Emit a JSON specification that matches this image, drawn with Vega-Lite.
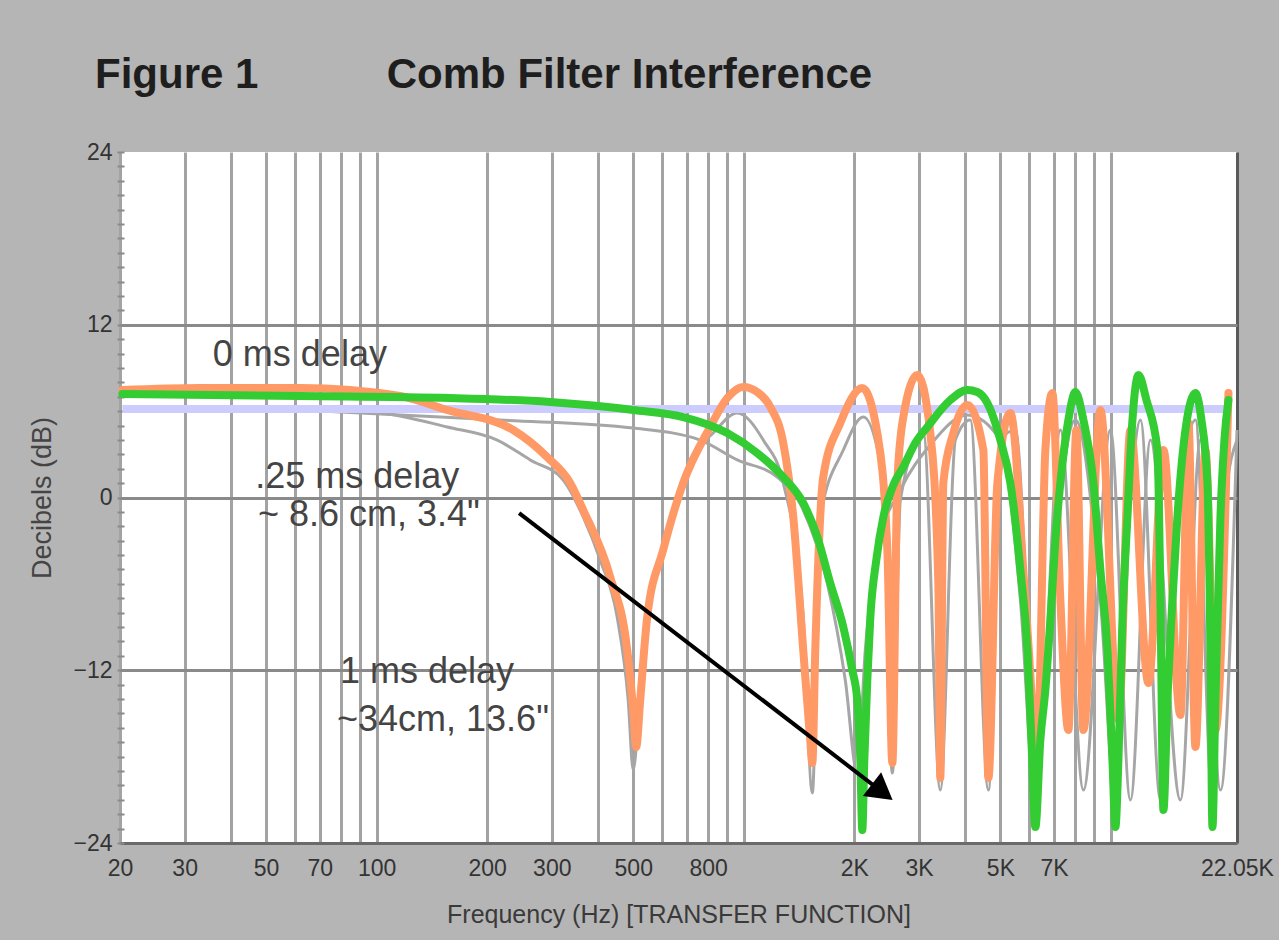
{
  "$schema": "https://vega.github.io/schema/vega-lite/v6.json",
  "width": 1117,
  "height": 691,
  "autosize": {"type": "none"},
  "padding": {"left": 120, "top": 152, "right": 42, "bottom": 97},
  "background": "#b5b5b5",
  "title": {
    "text": "Figure 1\u00a0\u00a0\u00a0\u00a0\u00a0\u00a0\u00a0\u00a0\u00a0\u00a0\u00a0Comb Filter Interference",
    "anchor": "start", "frame": "group", "dx": -25, "offset": 11, "baseline": "alphabetic",
    "font": "Liberation Sans", "fontSize": 42, "fontWeight": "bold", "color": "#1e1e1e"
  },
  "config": {"view": {"fill": "white", "stroke": null}},
  "datasets": {
    "curves": [
      {"s": "gray1", "f": 61.9, "db": 6.15}, {"s": "gray1", "f": 102.2, "db": 5.87}, {"s": "gray1", "f": 155.6, "db": 4.90},
      {"s": "gray1", "f": 213, "db": 3.99}, {"s": "gray1", "f": 262, "db": 2.61}, {"s": "gray1", "f": 322.2, "db": 1.22},
      {"s": "gray1", "f": 365.3, "db": -1.35}, {"s": "gray1", "f": 406.4, "db": -4.34}, {"s": "gray1", "f": 452, "db": -8.30},
      {"s": "gray1", "f": 484.4, "db": -14.07}, {"s": "gray1", "f": 499.9, "db": -18.93}, {"s": "gray1", "f": 522.3, "db": -13.37},
      {"s": "gray1", "f": 556.1, "db": -7.12}, {"s": "gray1", "f": 618.7, "db": -2.74}, {"s": "gray1", "f": 714.7, "db": 2.61},
      {"s": "gray1", "f": 825.6, "db": 4.48}, {"s": "gray1", "f": 960, "db": 5.87}, {"s": "gray1", "f": 1130, "db": 3.99},
      {"s": "gray1", "f": 1281, "db": 1.01}, {"s": "gray1", "f": 1452, "db": -8.30}, {"s": "gray1", "f": 1537, "db": -20.53},
      {"s": "gray1", "f": 1616, "db": -1.35}, {"s": "gray1", "f": 1867, "db": 3.30}, {"s": "gray1", "f": 2116, "db": 5.59},
      {"s": "gray1", "f": 2400, "db": 1.01}, {"s": "gray1", "f": 2539, "db": -19.14}, {"s": "gray1", "f": 2670, "db": -0.17},
      {"s": "gray1", "f": 3084, "db": 4.48}, {"s": "gray1", "f": 3430, "db": -20.32}, {"s": "gray1", "f": 3769, "db": 3.99},
      {"s": "gray1", "f": 4141, "db": 5.38}, {"s": "gray1", "f": 4637, "db": -20.32}, {"s": "gray1", "f": 4998, "db": 3.99},
      {"s": "gray1", "f": 5492, "db": 4.69}, {"s": "gray1", "f": 6305, "db": -19.62}, {"s": "gray1", "f": 7283, "db": 4.69},
      {"s": "gray1", "f": 8416, "db": -20.32}, {"s": "gray1", "f": 9970, "db": 4.69}, {"s": "gray1", "f": 11302, "db": -21.01},
      {"s": "gray1", "f": 12813, "db": 3.99}, {"s": "gray1", "f": 15463, "db": -21.01}, {"s": "gray1", "f": 17532, "db": 3.99},
      {"s": "gray1", "f": 19875, "db": -20.32}, {"s": "gray1", "f": 22050, "db": 4.69},

      {"s": "gray2", "f": 61.9, "db": 6.08}, {"s": "gray2", "f": 217, "db": 5.38}, {"s": "gray2", "f": 499.9, "db": 4.83},
      {"s": "gray2", "f": 761, "db": 3.99}, {"s": "gray2", "f": 960, "db": 2.61}, {"s": "gray2", "f": 1234, "db": 1.42},
      {"s": "gray2", "f": 1452, "db": -0.87}, {"s": "gray2", "f": 1688, "db": -5.94}, {"s": "gray2", "f": 1890, "db": -12.68},
      {"s": "gray2", "f": 2038, "db": -19.14}, {"s": "gray2", "f": 2143, "db": -10.59}, {"s": "gray2", "f": 2355, "db": -2.95},
      {"s": "gray2", "f": 2670, "db": 0.52}, {"s": "gray2", "f": 3222, "db": 3.65}, {"s": "gray2", "f": 4064, "db": 5.73},
      {"s": "gray2", "f": 4998, "db": 3.99}, {"s": "gray2", "f": 5668, "db": -7.12}, {"s": "gray2", "f": 6227, "db": -21.01},
      {"s": "gray2", "f": 6840, "db": -7.12}, {"s": "gray2", "f": 8002, "db": 5.38}, {"s": "gray2", "f": 9362, "db": -7.12},
      {"s": "gray2", "f": 10286, "db": -21.01}, {"s": "gray2", "f": 11302, "db": -0.17}, {"s": "gray2", "f": 12034, "db": 5.38},
      {"s": "gray2", "f": 13642, "db": -21.01}, {"s": "gray2", "f": 15463, "db": -0.17}, {"s": "gray2", "f": 16990, "db": 5.38},
      {"s": "gray2", "f": 18902, "db": -21.01}, {"s": "gray2", "f": 20508, "db": -0.17}, {"s": "gray2", "f": 22050, "db": 3.99},

      {"s": "flat", "f": 20.3, "db": 6.15}, {"s": "flat", "f": 20898, "db": 6.15},

      {"s": "orange", "f": 20.3, "db": 7.47}, {"s": "orange", "f": 33.0, "db": 7.61}, {"s": "orange", "f": 61.9, "db": 7.61},
      {"s": "orange", "f": 115.9, "db": 7.05}, {"s": "orange", "f": 155.6, "db": 6.08}, {"s": "orange", "f": 235.5, "db": 4.69},
      {"s": "orange", "f": 291.4, "db": 2.81}, {"s": "orange", "f": 336.7, "db": 1.01}, {"s": "orange", "f": 365.3, "db": -0.87},
      {"s": "orange", "f": 432.7, "db": -5.52}, {"s": "orange", "f": 481.4, "db": -10.59}, {"s": "orange", "f": 499.9, "db": -14.76},
      {"s": "orange", "f": 509.4, "db": -17.33}, {"s": "orange", "f": 522.3, "db": -14.07}, {"s": "orange", "f": 545.8, "db": -8.30},
      {"s": "orange", "f": 603.2, "db": -3.65}, {"s": "orange", "f": 684, "db": 1.01}, {"s": "orange", "f": 810.2, "db": 4.90},
      {"s": "orange", "f": 901.6, "db": 6.91}, {"s": "orange", "f": 996.8, "db": 7.68}, {"s": "orange", "f": 1088, "db": 7.33},
      {"s": "orange", "f": 1181, "db": 6.29}, {"s": "orange", "f": 1281, "db": 3.79}, {"s": "orange", "f": 1364, "db": -1.35},
      {"s": "orange", "f": 1452, "db": -10.59}, {"s": "orange", "f": 1517, "db": -16.84}, {"s": "orange", "f": 1537, "db": -18.44},
      {"s": "orange", "f": 1566, "db": -10.59}, {"s": "orange", "f": 1646, "db": 1.42}, {"s": "orange", "f": 1832, "db": 5.18},
      {"s": "orange", "f": 2103, "db": 7.61}, {"s": "orange", "f": 2310, "db": 4.48}, {"s": "orange", "f": 2461, "db": -3.65},
      {"s": "orange", "f": 2539, "db": -18.44}, {"s": "orange", "f": 2619, "db": 1.01}, {"s": "orange", "f": 2720, "db": 5.59},
      {"s": "orange", "f": 2970, "db": 8.51}, {"s": "orange", "f": 3222, "db": 4.48}, {"s": "orange", "f": 3388, "db": -5.94},
      {"s": "orange", "f": 3430, "db": -19.48}, {"s": "orange", "f": 3496, "db": 1.01}, {"s": "orange", "f": 3722, "db": 4.48},
      {"s": "orange", "f": 4064, "db": 6.43}, {"s": "orange", "f": 4493, "db": 3.30}, {"s": "orange", "f": 4637, "db": -19.48},
      {"s": "orange", "f": 4907, "db": 1.01}, {"s": "orange", "f": 5322, "db": 5.87}, {"s": "orange", "f": 5849, "db": -7.12},
      {"s": "orange", "f": 6305, "db": -17.33}, {"s": "orange", "f": 6629, "db": 3.30}, {"s": "orange", "f": 6926, "db": 7.26},
      {"s": "orange", "f": 7283, "db": -7.12}, {"s": "orange", "f": 7657, "db": -16.15}, {"s": "orange", "f": 8053, "db": 4.69},
      {"s": "orange", "f": 8416, "db": -16.15}, {"s": "orange", "f": 9362, "db": 6.08}, {"s": "orange", "f": 10482, "db": -15.46},
      {"s": "orange", "f": 11302, "db": 4.69}, {"s": "orange", "f": 12651, "db": -12.89}, {"s": "orange", "f": 13901, "db": 3.30},
      {"s": "orange", "f": 15463, "db": -15.11}, {"s": "orange", "f": 16261, "db": 5.18}, {"s": "orange", "f": 16990, "db": -17.33},
      {"s": "orange", "f": 18090, "db": 3.30}, {"s": "orange", "f": 19260, "db": -16.15}, {"s": "orange", "f": 20898, "db": 7.26},

      {"s": "green", "f": 20.3, "db": 7.19}, {"s": "green", "f": 61.9, "db": 7.05}, {"s": "green", "f": 158.6, "db": 6.91},
      {"s": "green", "f": 297, "db": 6.63}, {"s": "green", "f": 499.9, "db": 6.08}, {"s": "green", "f": 684, "db": 5.59},
      {"s": "green", "f": 901.6, "db": 4.48}, {"s": "green", "f": 1088, "db": 3.09}, {"s": "green", "f": 1281, "db": 1.42},
      {"s": "green", "f": 1452, "db": -0.38}, {"s": "green", "f": 1586, "db": -2.74}, {"s": "green", "f": 1720, "db": -5.94},
      {"s": "green", "f": 1867, "db": -9.00}, {"s": "green", "f": 1975, "db": -11.98}, {"s": "green", "f": 2038, "db": -14.07},
      {"s": "green", "f": 2077, "db": -18.23}, {"s": "green", "f": 2103, "db": -23.10}, {"s": "green", "f": 2130, "db": -18.23},
      {"s": "green", "f": 2170, "db": -12.68}, {"s": "green", "f": 2212, "db": -8.30}, {"s": "green", "f": 2296, "db": -4.34},
      {"s": "green", "f": 2400, "db": -1.35}, {"s": "green", "f": 2555, "db": 0.87}, {"s": "green", "f": 2720, "db": 2.12},
      {"s": "green", "f": 2932, "db": 3.79}, {"s": "green", "f": 3163, "db": 4.90}, {"s": "green", "f": 3653, "db": 6.77},
      {"s": "green", "f": 4064, "db": 7.47}, {"s": "green", "f": 4327, "db": 7.33}, {"s": "green", "f": 4608, "db": 6.56},
      {"s": "green", "f": 4998, "db": 3.99}, {"s": "green", "f": 5322, "db": 1.01}, {"s": "green", "f": 5668, "db": -5.04},
      {"s": "green", "f": 5923, "db": -10.59}, {"s": "green", "f": 6073, "db": -16.84}, {"s": "green", "f": 6227, "db": -22.89},
      {"s": "green", "f": 6424, "db": -16.84}, {"s": "green", "f": 6629, "db": -13.37}, {"s": "green", "f": 6840, "db": -8.51},
      {"s": "green", "f": 7058, "db": -2.95}, {"s": "green", "f": 7283, "db": 1.01}, {"s": "green", "f": 7657, "db": 5.38},
      {"s": "green", "f": 8002, "db": 7.33}, {"s": "green", "f": 8416, "db": 5.38}, {"s": "green", "f": 8960, "db": 1.01},
      {"s": "green", "f": 9362, "db": -5.04}, {"s": "green", "f": 9784, "db": -10.59}, {"s": "green", "f": 10095, "db": -18.23},
      {"s": "green", "f": 10286, "db": -22.89}, {"s": "green", "f": 10482, "db": -18.23}, {"s": "green", "f": 10749, "db": -8.51},
      {"s": "green", "f": 11091, "db": -1.35}, {"s": "green", "f": 11445, "db": 5.38}, {"s": "green", "f": 11884, "db": 8.51},
      {"s": "green", "f": 12496, "db": 6.77}, {"s": "green", "f": 13388, "db": 3.30}, {"s": "green", "f": 13642, "db": -7.12},
      {"s": "green", "f": 13901, "db": -21.71}, {"s": "green", "f": 14254, "db": -14.07}, {"s": "green", "f": 14707, "db": -7.12},
      {"s": "green", "f": 15175, "db": -1.35}, {"s": "green", "f": 15956, "db": 4.69}, {"s": "green", "f": 16990, "db": 7.26},
      {"s": "green", "f": 17643, "db": 5.38}, {"s": "green", "f": 18318, "db": 1.01}, {"s": "green", "f": 18666, "db": -10.59},
      {"s": "green", "f": 18902, "db": -22.89}, {"s": "green", "f": 19260, "db": -14.07}, {"s": "green", "f": 19875, "db": -1.35},
      {"s": "green", "f": 20376, "db": 3.99}, {"s": "green", "f": 20898, "db": 6.77}
    ],
    "arrow": [
      {"f": 244.4, "db": -1.08},
      {"f": 2384, "db": -20.46}
    ],
    "head": [
      {"f": 2384, "db": -20.46}
    ],
    "notes": [
      {"f": 35.8, "db": 9.9, "t": "0 ms delay"},
      {"f": 46.7, "db": 1.42, "t": ".25 ms delay"},
      {"f": 47.5, "db": -1.22, "t": "~ 8.6 cm, 3.4\""},
      {"f": 79.5, "db": -12.12, "t": "1 ms delay"},
      {"f": 78.0, "db": -15.46, "t": "~34cm, 13.6\""}
    ]
  },
  "resolve": {"axis": {"y": "independent"}},
  "layer": [
    {
      "data": {"name": "curves"},
      "transform": [{"filter": "datum.s == 'gray1' || datum.s == 'gray2'"}],
      "mark": {"type": "line", "color": "#a6a6a6", "strokeWidth": 3, "interpolate": "monotone"},
      "encoding": {
        "x": {
          "field": "f", "type": "quantitative",
          "scale": {"type": "log", "domain": [20, 22050], "nice": false},
          "axis": {
            "values": [20, 30, 40, 50, 60, 70, 80, 90, 100, 200, 300, 400, 500, 600, 700, 800, 900, 1000, 2000, 3000, 4000, 5000, 6000, 7000, 8000, 9000, 10000, 22050],
            "labelExpr": "indexof([20,30,50,70,100,200,300,500,800], datum.value) >= 0 ? '' + datum.value : datum.value == 2000 ? '2K' : datum.value == 3000 ? '3K' : datum.value == 5000 ? '5K' : datum.value == 7000 ? '7K' : datum.value == 22050 ? '22.05K' : ''",
            "grid": true,
            "gridColor": {"condition": {"test": "datum.value == 22050", "value": "#5a5a5a"}, "value": "#a3a3a3"},
            "gridWidth": 3,
            "ticks": false,
            "domainColor": "#6a6a6a", "domainWidth": 3,
            "labelFont": "Liberation Sans", "labelFontSize": 23, "labelColor": "#333333", "labelPadding": 14,
            "labelOverlap": false, "labelFlush": false,
            "title": "Frequency (Hz) [TRANSFER FUNCTION]",
            "titleFont": "Liberation Sans", "titleFontSize": 25, "titleFontWeight": "normal", "titleColor": "#3a3a3a", "titlePadding": 22
          }
        },
        "y": {
          "field": "db", "type": "quantitative",
          "scale": {"domain": [-24, 24], "nice": false},
          "axis": {
            "values": [-24, -12, 0, 12, 24],
            "grid": true, "gridColor": "#8a8a8a", "gridWidth": 3,
            "gridOpacity": {"condition": {"test": "datum.value == 24 || datum.value == -24", "value": 0}, "value": 1},
            "ticks": false, "domain": false,
            "labelFont": "Liberation Sans", "labelFontSize": 23, "labelColor": "#333333", "labelPadding": 8,
            "title": "Decibels (dB)",
            "titleFont": "Liberation Sans", "titleFontSize": 27, "titleFontWeight": "normal", "titleColor": "#444444", "titlePadding": 16
          }
        },
        "detail": {"field": "s"}
      }
    },
    {
      "data": {"name": "curves"},
      "transform": [{"filter": "datum.s == 'flat'"}],
      "mark": {"type": "line", "color": "#ccccff", "strokeWidth": 8, "strokeCap": "butt"},
      "encoding": {
        "x": {"field": "f", "type": "quantitative"},
        "y": {
          "field": "db", "type": "quantitative",
          "axis": {
            "orient": "left",
            "values": [-24,-23,-22,-21,-20,-19,-18,-17,-16,-15,-14,-13,-12,-11,-10,-9,-8,-7,-6,-5,-4,-3,-2,-1,0,1,2,3,4,5,6,7,8,9,10,11,12,13,14,15,16,17,18,19,20,21,22,23,24],
            "labels": false, "grid": false, "domain": false,
            "ticks": true, "tickSize": 7, "tickWidth": 2, "tickColor": "#8a8a8a", "offset": -4,
            "title": null
          }
        }
      }
    },
    {
      "data": {"name": "curves"},
      "transform": [{"filter": "datum.s == 'orange'"}],
      "mark": {"type": "line", "color": "#ff9966", "strokeWidth": 8, "interpolate": "monotone", "strokeCap": "round", "strokeJoin": "round"},
      "encoding": {
        "x": {"field": "f", "type": "quantitative"},
        "y": {"field": "db", "type": "quantitative", "axis": null}
      }
    },
    {
      "data": {"name": "curves"},
      "transform": [{"filter": "datum.s == 'green'"}],
      "mark": {"type": "line", "color": "#33cc33", "strokeWidth": 8, "interpolate": "monotone", "strokeCap": "round", "strokeJoin": "round"},
      "encoding": {
        "x": {"field": "f", "type": "quantitative"},
        "y": {"field": "db", "type": "quantitative", "axis": null}
      }
    },
    {
      "data": {"name": "arrow"},
      "mark": {"type": "line", "color": "#000000", "strokeWidth": 4},
      "encoding": {
        "x": {"field": "f", "type": "quantitative"},
        "y": {"field": "db", "type": "quantitative", "axis": null}
      }
    },
    {
      "data": {"name": "head"},
      "mark": {"type": "point", "shape": "triangle-right", "angle": 37.6, "size": 900, "filled": true, "color": "#000000", "opacity": 1},
      "encoding": {
        "x": {"field": "f", "type": "quantitative"},
        "y": {"field": "db", "type": "quantitative", "axis": null}
      }
    },
    {
      "data": {"name": "notes"},
      "mark": {"type": "text", "align": "left", "baseline": "middle", "font": "Liberation Sans", "fontSize": 36, "color": "#444444"},
      "encoding": {
        "x": {"field": "f", "type": "quantitative"},
        "y": {"field": "db", "type": "quantitative", "axis": null},
        "text": {"field": "t"}
      }
    }
  ]
}
